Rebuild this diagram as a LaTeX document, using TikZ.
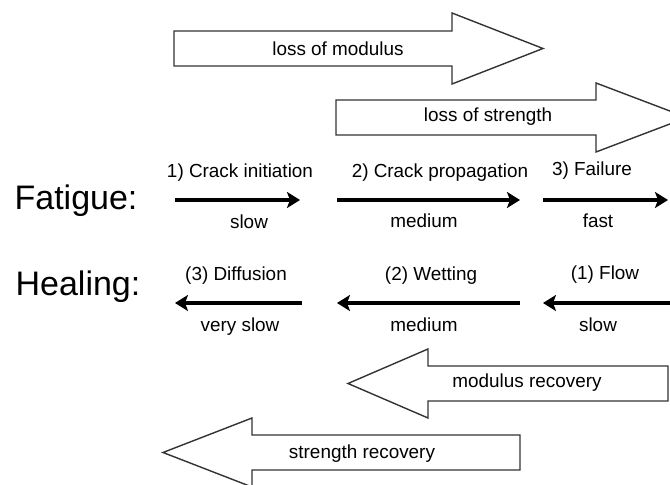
\documentclass[tikz,border=0pt]{standalone}
\usepackage{fontspec}
\setmainfont{Liberation Sans}
\usepackage{tikz}
\usetikzlibrary{arrows.meta,positioning}

\begin{document}
\begin{tikzpicture}[x=0.5pt,y=-0.5pt,
		block arrow/.style={draw=black!80,line width=0.7pt,fill=white,line join=miter},
		rate arrow/.style={-{Stealth[length=6.5pt,width=8pt,inset=1.5pt]},line width=1.6pt},
		text node/.style={font=\fontsize{9.45}{11}\selectfont,inner sep=0pt},
		title node/.style={font=\fontsize{17}{20}\selectfont,inner sep=0pt}]
		
		\useasboundingbox (0,0) rectangle (670,485);
		\clip (0,0) rectangle (670,485);
		
		% big block arrows
		\draw[block arrow] (174,31) -- (452,31) -- (452,13) -- (543,48.5) -- (452,84) -- (452,66) -- (174,66) -- cycle;
		\node[text node] (modloss) at (338,49) {loss of modulus};
		
		\draw[block arrow] (336,100) -- (596,100) -- (596,83) -- (687,117.5) -- (596,152) -- (596,135) -- (336,135) -- cycle;
		\node[text node] (strloss) at (488,117) {loss of strength};
		
		\draw[block arrow] (668,366) -- (428,366) -- (428,349) -- (348,383.5) -- (428,418) -- (428,401) -- (668,401) -- cycle;
		\node[text node] (modrec) at (527,383) {modulus recovery};
		
		\draw[block arrow] (520,435) -- (252,435) -- (252,418) -- (163,452.5) -- (252,487) -- (252,470) -- (520,470) -- cycle;
		\node[text node] (strrec) at (362,454) {strength recovery};
		
		% rows
		\node[title node,anchor=base] (fatigue) at (76,210) {Fatigue:};
		\node[title node,anchor=base] (healing) at (78,296) {Healing:};
		
		\coordinate (f1s) at (175,200);
		\coordinate (f1e) at (300,200);
		\coordinate (f2s) at (337,200);
		\coordinate (f2e) at (520,200);
		\coordinate (f3s) at (543,200);
		\coordinate (f3e) at (668,200);
		
		\coordinate (h1s) at (675,303);
		\coordinate (h1e) at (543,303);
		\coordinate (h2s) at (520,303);
		\coordinate (h2e) at (337,303);
		\coordinate (h3s) at (302,303);
		\coordinate (h3e) at (175,303);
		
		\path[rate arrow]
		(f1s) edge (f1e)
		(f2s) edge (f2e)
		(f3s) edge (f3e)
		(h1s) edge (h1e)
		(h2s) edge (h2e)
		(h3s) edge (h3e);
		
		\node[text node,anchor=base] (crackini) at (240,178) {1) Crack initiation};
		\node[text node,anchor=base] (slowf) at (249,229) {slow};
		\node[text node,anchor=base] (crackprop) at (440,178) {2) Crack propagation};
		\node[text node,anchor=base] (mediumf) at (424,228) {medium};
		\node[text node,anchor=base] (failure) at (592,176) {3) Failure};
		\node[text node,anchor=base] (fast) at (598,228) {fast};
		
		\node[text node,anchor=base] (diffusion) at (236,281) {(3) Diffusion};
		\node[text node,anchor=base] (veryslow) at (240,332) {very slow};
		\node[text node,anchor=base] (wetting) at (431,281) {(2) Wetting};
		\node[text node,anchor=base] (mediumh) at (424,332) {medium};
		\node[text node,anchor=base] (flow) at (605,280) {(1) Flow};
		\node[text node,anchor=base] (slowh) at (598,332) {slow};
		
\end{tikzpicture}
\end{document}
